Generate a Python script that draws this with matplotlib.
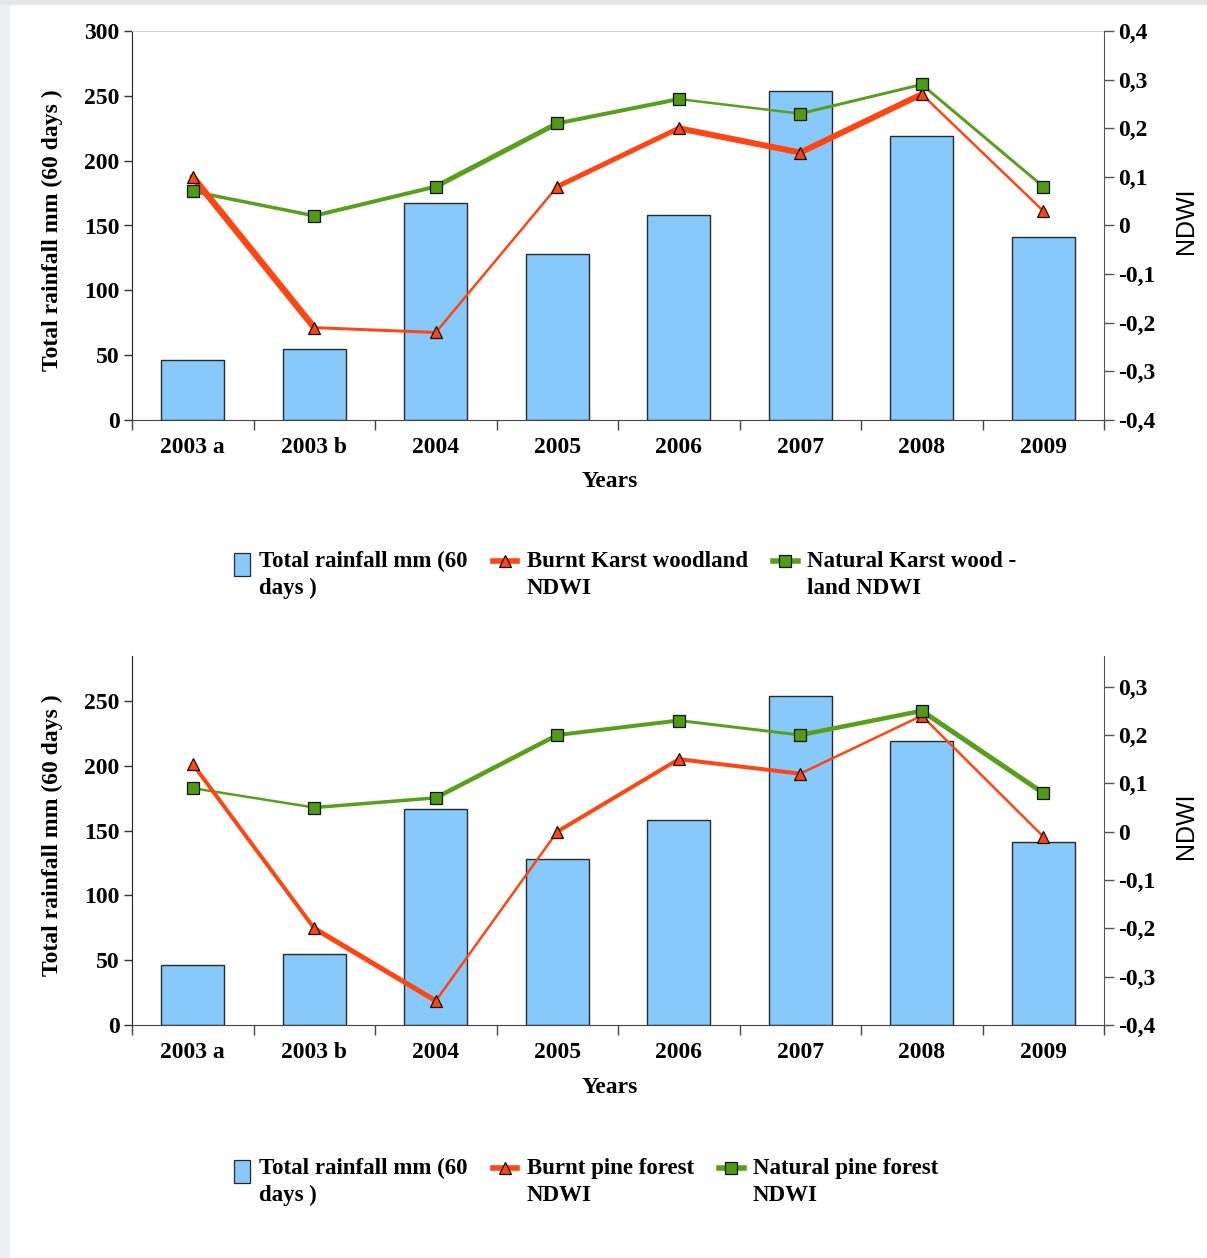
import matplotlib
matplotlib.use("Agg")
import matplotlib.pyplot as plt
import numpy as np
from matplotlib.collections import LineCollection
from matplotlib.lines import Line2D
from matplotlib.patches import Rectangle
from matplotlib.legend_handler import HandlerPatch
from matplotlib.font_manager import FontProperties

# ---- data -------------------------------------------------------------
years = ["2003 a", "2003 b", "2004", "2005", "2006", "2007", "2008", "2009"]
rainfall = [46, 55, 167, 128, 158, 254, 219, 141]

burnt_karst = [0.10, -0.21, -0.22, 0.08, 0.20, 0.15, 0.27, 0.03]
natural_karst = [0.07, 0.02, 0.08, 0.21, 0.26, 0.23, 0.29, 0.08]

burnt_pine = [0.14, -0.20, -0.35, 0.00, 0.15, 0.12, 0.24, -0.01]
natural_pine = [0.09, 0.05, 0.07, 0.20, 0.23, 0.20, 0.25, 0.08]

rain_ticks_top = [0, 50, 100, 150, 200, 250, 300]
rain_ticks_bottom = [0, 50, 100, 150, 200, 250]
ndwi_ticks_top = [-0.4, -0.3, -0.2, -0.1, 0.0, 0.1, 0.2, 0.3, 0.4]
ndwi_ticks_bottom = [-0.4, -0.3, -0.2, -0.1, 0.0, 0.1, 0.2, 0.3]

legend_top = ["Total rainfall mm (60\ndays )", "Burnt Karst woodland\nNDWI",
              "Natural Karst wood -\nland NDWI"]
legend_bottom = ["Total rainfall mm (60\ndays )", "Burnt pine forest\nNDWI",
                 "Natural pine forest\nNDWI"]

# ---- style ------------------------------------------------------------
W, H = 1207, 1258
BAR = "#86C9FA"
ORANGE = "#FF4612"
GREEN = "#58A01C"
GREEN_FILL = "#4F9B14"
serif_b = FontProperties(family="Liberation Serif", weight="bold", size=17)
serif_leg = FontProperties(family="Liberation Serif", weight="bold", size=16.5)
sans = FontProperties(family="Liberation Sans", size=18)

fig = plt.figure(figsize=(W / 100, H / 100), dpi=100)
fig.patch.set_facecolor("white")
fig.patches.append(Rectangle((0, 0), 10 / W, 1, transform=fig.transFigure,
                             facecolor="#eceef0", edgecolor="none", zorder=-10))
fig.patches.append(Rectangle((0, 1 - 5 / H), 1, 5 / H, transform=fig.transFigure,
                             facecolor="#e4e6ea", edgecolor="none", zorder=-10))


def px_box(l, t, r, b):
    return [l / W, 1 - b / H, (r - l) / W, (b - t) / H]


def fmt_ndwi(v):
    if abs(v) < 1e-9:
        return "0"
    return f"{v:.1f}".replace(".", ",")


def narrow_box(legend, orig_handle, xdescent, ydescent, width, height, fontsize):
    w = 0.64 * width
    return Rectangle((-xdescent + width - w, -ydescent - 0.1 * height), w, 1.0 * height)


def segment_line(ax, xs, ys, color, widths_px, z):
    pts = np.column_stack([xs, ys])
    segs = [pts[i:i + 2] for i in range(len(xs) - 1)]
    lc = LineCollection(segs, colors=color, linewidths=[w * 0.72 for w in widths_px],
                        capstyle="round", joinstyle="round", zorder=z)
    ax.add_collection(lc, autolim=False)


def panel(box, burnt, natural, rain_top, rain_ticks, ndwi_top, ndwi_ticks,
          burnt_w, natural_w, top_spine, ylab_y, ndwi_y, xlab_y,
          labels, leg_xy):
    ax = fig.add_axes(px_box(*box))
    x = np.arange(len(years))
    ax.bar(x, rainfall, width=0.52, color=BAR, edgecolor="#2a2a2a",
           linewidth=1.0, zorder=2)
    ax.set_xlim(-0.5, len(years) - 0.5)
    ax.set_ylim(0, rain_top)
    ax.set_yticks(rain_ticks)
    ax.set_yticklabels([str(t) for t in rain_ticks], fontproperties=serif_b)
    ax.set_xticks(np.arange(-0.5, len(years), 1.0))
    ax.set_xticklabels([])
    ax.set_xticks(x, minor=True)
    ax.set_xticklabels(years, minor=True, fontproperties=serif_b)
    ax.tick_params(axis="x", which="major", length=7, width=1, color="#444444",
                   direction="out")
    ax.tick_params(axis="x", which="minor", length=0, pad=12.5)
    ax.tick_params(axis="y", length=6, width=1, color="#333333", pad=3,
                   direction="out")
    ax.spines["right"].set_visible(False)
    ax.spines["left"].set_color("#222222")
    ax.spines["bottom"].set_color("#444444")
    if top_spine:
        ax.spines["top"].set_color("#d4d4d4")
    else:
        ax.spines["top"].set_visible(False)
    ax.set_ylabel("Total rainfall mm (60 days )", fontproperties=serif_b)
    ax.yaxis.set_label_coords(-0.071, ylab_y)
    ax.set_xlabel("Years", fontproperties=serif_b)
    ax.xaxis.set_label_coords(0.4918, xlab_y)

    ax2 = ax.twinx()
    ax2.set_ylim(-0.4, ndwi_top)
    ax2.set_yticks(ndwi_ticks)
    ax2.set_yticklabels([fmt_ndwi(v) for v in ndwi_ticks], fontproperties=serif_b)
    ax2.tick_params(axis="y", length=7, width=1, color="#555555", pad=3,
                    direction="out")
    for s in ("top", "left", "bottom"):
        ax2.spines[s].set_visible(False)
    ax2.spines["right"].set_color("#555555")
    ax2.set_ylabel("NDWI", fontproperties=sans)
    ax2.yaxis.set_label_coords(1.072, ndwi_y)

    segment_line(ax2, x, natural, GREEN, natural_w, 3.0)
    segment_line(ax2, x, burnt, ORANGE, burnt_w, 3.1)
    ax2.plot(x, burnt, ls="none", marker="^", ms=8, mfc=ORANGE, mec="#111111",
             mew=0.9, zorder=4)
    ax2.plot(x, natural, ls="none", marker="s", ms=8, mfc=GREEN_FILL,
             mec="#111111", mew=0.9, zorder=4.1)
    ax2.set_xlim(-0.5, len(years) - 0.5)

    handles = [
        Rectangle((0, 0), 1, 1, facecolor=BAR, edgecolor="#2a2a2a", linewidth=0.9),
        Line2D([], [], color=ORANGE, lw=4, marker="^", ms=8, mfc=ORANGE,
               mec="#111111", mew=0.9),
        Line2D([], [], color=GREEN, lw=4, marker="s", ms=8, mfc=GREEN_FILL,
               mec="#111111", mew=0.9),
    ]
    leg = fig.legend(handles, labels, loc="upper left",
                     bbox_to_anchor=(leg_xy[0] / W, 1 - leg_xy[1] / H),
                     ncol=3, frameon=False, prop=serif_leg, handlelength=1.08,
                     handleheight=1.15, handletextpad=0.4, columnspacing=1.1,
                     borderpad=0, borderaxespad=0,
                     handler_map={Rectangle: HandlerPatch(patch_func=narrow_box)})
    for t in leg.get_texts():
        t.set_linespacing(1.36)
    for col in leg._legend_handle_box.get_children():
        for row in col.get_children():
            row.align = "top"
    return ax, ax2


panel((132, 31, 1104, 420), burnt_karst, natural_karst, 300, rain_ticks_top,
      0.4, ndwi_ticks_top,
      burnt_w=[6.5, 3, 2.5, 5, 6, 6, 2.5],
      natural_w=[3.5, 4, 5, 4, 2.5, 3, 3],
      top_spine=True, ylab_y=0.488, ndwi_y=0.512, xlab_y=-0.132,
      labels=legend_top, leg_xy=(225, 551))

panel((132, 656, 1104, 1025), burnt_pine, natural_pine, 284.7, rain_ticks_bottom,
      0.3635, ndwi_ticks_bottom,
      burnt_w=[4, 5, 2.5, 4, 4, 2.5, 2.5],
      natural_w=[2.5, 3.5, 4.5, 4, 3, 4.5, 5],
      top_spine=False, ylab_y=0.515, ndwi_y=0.539, xlab_y=-0.14,
      labels=legend_bottom, leg_xy=(225, 1158))

fig.savefig("out.png", dpi=100, facecolor=fig.get_facecolor())
